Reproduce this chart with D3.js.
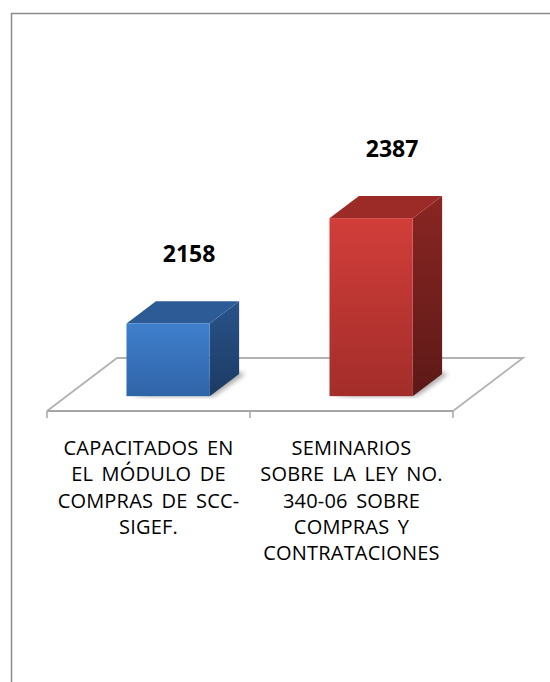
<!DOCTYPE html>
<html>
<head>
<meta charset="utf-8">
<script src="https://cdn.jsdelivr.net/npm/d3@7"></script>
<style>
  html, body { margin: 0; padding: 0; background: #fff; }
  svg { display: block; }
  text { font-family: "Open Sans", "Liberation Sans", Arial, sans-serif; }
</style>
</head>
<body>
<div id="chart"></div>
<script>
// ---- Data ----
const categories = ["capacitados", "seminarios"];
const values = [2158, 2387];
const categoryLines = [
  ["CAPACITADOS EN", "EL MÓDULO DE", "COMPRAS DE SCC-", "SIGEF."],
  ["SEMINARIOS", "SOBRE LA LEY NO.", "340-06 SOBRE", "COMPRAS Y", "CONTRATACIONES"]
];
const axisMin = 2000, axisMax = 2500;

// ---- Layout ----
const W = 550, H = 682;
const floorY = 411;                 // front edge of the floor (category axis)
const depth = { dx: 70, dy: -53 };  // full floor depth in oblique projection
const z0 = 0.28, z1 = 0.70;         // bar depth span as fraction of floor depth

const svg = d3.select("#chart").append("svg")
  .attr("width", W).attr("height", H);

// Outer frame (runs off the right/bottom edge like the source)
svg.append("rect")
  .attr("x", 11.5).attr("y", 13.5)
  .attr("width", W + 20).attr("height", H + 20)
  .attr("fill", "none").attr("stroke", "#8c8c8c").attr("stroke-width", 1.5);

// ---- Scales ----
const x = d3.scaleBand().domain(categories).range([47, 453]).padding(0);
const h = d3.scaleLinear().domain([axisMin, axisMax]).range([0, 230]);

const colors = {
  capacitados: { front: ["#3f7fcc", "#3064a8"], top: "#2d5b96", side: ["#285389", "#1c3b64"] },
  seminarios:  { front: ["#d23e3a", "#a32d2a"], top: "#9c2b28", side: ["#8a2623", "#5c1917"] }
};

const defs = svg.append("defs");
categories.forEach(c => {
  const f = defs.append("linearGradient").attr("id", "front-" + c)
    .attr("x1", 0).attr("y1", 0).attr("x2", 0).attr("y2", 1);
  f.append("stop").attr("offset", 0).attr("stop-color", colors[c].front[0]);
  f.append("stop").attr("offset", 1).attr("stop-color", colors[c].front[1]);
  const s = defs.append("linearGradient").attr("id", "side-" + c)
    .attr("x1", 0).attr("y1", 0).attr("x2", 0).attr("y2", 1);
  s.append("stop").attr("offset", 0).attr("stop-color", colors[c].side[0]);
  s.append("stop").attr("offset", 1).attr("stop-color", colors[c].side[1]);
});
defs.append("filter").attr("id", "blur")
  .append("feGaussianBlur").attr("stdDeviation", 2.5);

// ---- Floor ----
const fx0 = x.range()[0], fx1 = x.range()[1];
svg.append("path")
  .attr("d", `M${fx0},${floorY} L${fx0 + depth.dx},${floorY + depth.dy} L${fx1 + depth.dx},${floorY + depth.dy} L${fx1},${floorY}`)
  .attr("fill", "none").attr("stroke", "#b3b3b3").attr("stroke-width", 1.8);

// category axis + ticks
svg.append("line")
  .attr("x1", fx0).attr("x2", fx1).attr("y1", floorY).attr("y2", floorY)
  .attr("stroke", "#a6a6a6").attr("stroke-width", 1.8);
const tickXs = categories.map(c => x(c)).concat([fx1]);
svg.selectAll("line.tick").data(tickXs).join("line")
  .attr("class", "tick")
  .attr("x1", d => d).attr("x2", d => d)
  .attr("y1", floorY).attr("y2", floorY + 7)
  .attr("stroke", "#a6a6a6").attr("stroke-width", 1.5);

// ---- Bars ----
const bw = x.bandwidth();
const barW = bw * 0.41;
const off = (bw - barW) / 2;
const fdx = depth.dx * z0, fdy = depth.dy * z0;
const ddx = depth.dx * (z1 - z0), ddy = depth.dy * (z1 - z0);

const bars = svg.selectAll("g.bar")
  .data(categories.map((c, i) => ({ c, v: values[i] })))
  .join("g").attr("class", "bar");

bars.each(function (d) {
  const g = d3.select(this);
  const x0 = x(d.c) + off + fdx;
  const x1 = x0 + barW;
  const yb = floorY + fdy;
  const yt = yb - h(d.v);

  // soft shadow on the floor
  g.append("path")
    .attr("d", `M${x0 + 4},${yb} L${x1 + 4},${yb} L${x1 + ddx + 6},${yb + ddy} L${x1 + ddx},${yb + ddy - 2} Z`)
    .attr("fill", "#000").attr("opacity", 0.35).attr("filter", "url(#blur)");

  // right side face
  g.append("path")
    .attr("d", `M${x1},${yt} L${x1 + ddx},${yt + ddy} L${x1 + ddx},${yb + ddy} L${x1},${yb} Z`)
    .attr("fill", `url(#side-${d.c})`);
  // top face
  g.append("path")
    .attr("d", `M${x0},${yt} L${x0 + ddx},${yt + ddy} L${x1 + ddx},${yt + ddy} L${x1},${yt} Z`)
    .attr("fill", colors[d.c].top);
  // front face
  g.append("rect")
    .attr("x", x0).attr("y", yt).attr("width", barW).attr("height", yb - yt)
    .attr("fill", `url(#front-${d.c})`);

  // value label
  g.append("text")
    .attr("x", x0 + barW / 2 + 21)
    .attr("y", yt + ddy - 39)
    .attr("text-anchor", "middle")
    .attr("font-size", 23).attr("font-weight", "bold").attr("fill", "#000")
    .text(d.v);
});

// ---- Category labels ----
categories.forEach((c, i) => {
  const t = svg.append("text")
    .attr("text-anchor", "middle")
    .attr("font-size", 20).attr("word-spacing", 3).attr("letter-spacing", 0.2)
    .attr("fill", "#000");
  categoryLines[i].forEach((line, j) => {
    t.append("tspan")
      .attr("x", x(c) + bw / 2)
      .attr("y", 455 + j * 26.3)
      .text(line);
  });
});
</script>
</body>
</html>
